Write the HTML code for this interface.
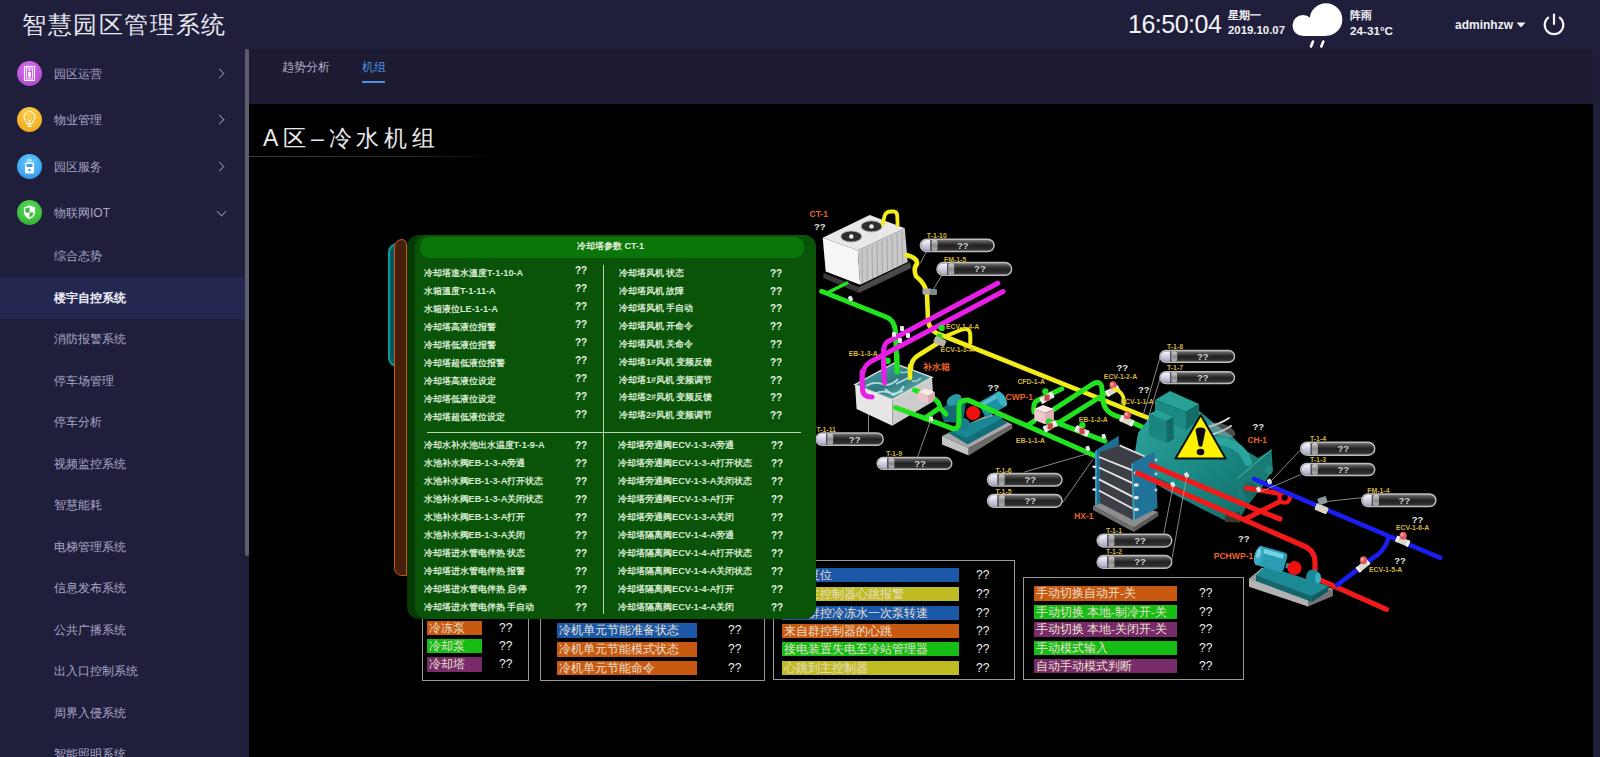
<!DOCTYPE html>
<html><head><meta charset="utf-8">
<style>
*{margin:0;padding:0;box-sizing:border-box}
html,body{width:1600px;height:757px;overflow:hidden;background:#201f3b;font-family:"Liberation Sans",sans-serif}
.a{position:absolute;white-space:nowrap}
#hdr{position:absolute;left:0;top:0;width:1600px;height:49px;background:#201f3b}
#side{position:absolute;left:0;top:49px;width:245px;height:708px;background:#201f3b;overflow:hidden}
.mi{position:absolute;left:54px;font-size:12px;color:#a9a6c6;line-height:14px}
.ic{position:absolute;left:17px;width:25px;height:25px;border-radius:50%}
.arr{position:absolute;left:216px;width:7px;height:7px;border-right:1.3px solid #8a88a6;border-top:1.3px solid #8a88a6;transform:rotate(45deg)}
.sub{position:absolute;left:54px;font-size:12px;color:#a9a6c6;line-height:14px}
#scroll{position:absolute;left:245px;top:49px;width:4px;height:507px;border-radius:2px;background:#5e5d70}
#tabs{position:absolute;left:249px;top:49px;width:1344px;height:55px;background:#1c1b31}
#main{position:absolute;left:249px;top:104px;width:1344px;height:653px;background:#000}
</style><style>
.lg{font-family:"Liberation Serif",serif;font-size:11.5px;line-height:14px;color:#f2e6d6;padding-left:2px;overflow:hidden;opacity:.97}
.q2{font-size:12px;line-height:14px;color:#f0f0f0}
.pt{font-size:9px;line-height:11px;color:#e0f0d8;font-weight:bold}
.pr{font-family:"Liberation Serif",serif;font-size:9px;line-height:11px;color:#d6ead0;font-weight:bold}
.pr b{font-family:"Liberation Sans",sans-serif;font-size:9.2px}
.pq{font-size:10px;line-height:11px;color:#e8f4e4;font-weight:bold}
</style></head><body>
<div id="hdr">
  <div class="a" style="left:22px;top:11px;font-size:24px;letter-spacing:1.6px;color:#e6e6ee;line-height:28px">智慧园区管理系统</div>
  <div class="a" style="left:1128px;top:9px;font-size:25px;color:#f4f4f8;line-height:30px;letter-spacing:-0.5px">16:50:04</div>
  <div class="a" style="left:1228px;top:9px;font-size:11px;color:#f0f0f4;line-height:13px;font-weight:bold">星期一</div>
  <div class="a" style="left:1228px;top:24px;font-size:11.4px;color:#f0f0f4;line-height:13px;font-weight:bold">2019.10.07</div>
  <div class="a" style="left:1350px;top:9px;font-size:11px;color:#f0f0f4;line-height:13px;font-weight:bold">阵雨</div>
  <div class="a" style="left:1350px;top:24px;font-size:11.7px;color:#f0f0f4;line-height:13px;font-weight:bold">24-31°C</div>
  <div class="a" style="left:1455px;top:18px;font-size:12px;color:#f0f0f4;line-height:15px;font-weight:bold">adminhzw</div>
  <svg class="a" style="left:1285px;top:0" width="70" height="50" viewBox="1285 0 70 50"><circle cx="1326" cy="19.5" r="16.3" fill="#fff"/><circle cx="1303" cy="25.5" r="10.5" fill="#fff"/><rect x="1303" y="24" width="23" height="12" fill="#fff"/><path d="M1313,41.5 L1311,46.5 M1323.3,41.5 L1321.3,46.5" stroke="#fff" stroke-width="2.6" stroke-linecap="round"/></svg>
  <svg class="a" style="left:1510px;top:8px" width="60" height="36" viewBox="1510 8 60 36"><path d="M1516.5,22.5 h9 l-4.5,5z" fill="#f0f0f4"/><path d="M1548.2,17.6 A9.3,9.3 0 1 0 1559.8,17.6" fill="none" stroke="#f4f4f8" stroke-width="2.2" stroke-linecap="round"/><path d="M1554,14.5 v9.5" stroke="#f4f4f8" stroke-width="2.2" stroke-linecap="round"/></svg>
</div>
<div id="side">
  <div class="ic" style="top:12px;background:radial-gradient(circle at 45% 30%,#e070f0,#a040c8)"><svg width="25" height="25" viewBox="0 0 25 25"><rect x="7.5" y="5.5" width="10" height="14" fill="none" stroke="#fff" stroke-width="1.1"/><rect x="9.5" y="7" width="6" height="11" fill="none" stroke="#fff" stroke-width="0.8"/><circle cx="12.5" cy="9" r="1" fill="#fff"/><path d="M11.2 11h2.6v4l-0.6 2h-1.4l-0.6-2z" fill="#fff"/></svg></div>
  <div class="mi" style="top:18px">园区运营</div><div class="arr" style="top:21px"></div>
  <div class="ic" style="top:58px;background:radial-gradient(circle at 50% 30%,#fcd050,#f0a010)"><svg width="25" height="25" viewBox="0 0 25 25"><path d="M9.6 16.5c0-2.2-2.6-3.6-2.6-6.6a5.5 5.5 0 0 1 11 0c0 3-2.6 4.4-2.6 6.6z" fill="none" stroke="#fff" stroke-width="1"/><path d="M10.2 18h4.6M10.6 19.5h3.8M11 12.5l1.5 2l1.5-2M12.5 14.5v2" stroke="#fff" stroke-width="0.9" fill="none"/></svg></div>
  <div class="mi" style="top:64px">物业管理</div><div class="arr" style="top:67px"></div>
  <div class="ic" style="top:105px;background:radial-gradient(circle at 50% 35%,#70d0ff,#1f8ae8)"><svg width="25" height="25" viewBox="0 0 25 25"><rect x="8" y="8.5" width="9" height="11" rx="1.5" fill="#fff"/><rect x="9.5" y="10" width="6" height="3" fill="#3a9af0"/><circle cx="12.5" cy="16" r="1.2" fill="#3a9af0"/><path d="M10 6.5a3.5 3.5 0 0 1 5 0M11.2 7.5a1.8 1.8 0 0 1 2.6 0" stroke="#fff" stroke-width="0.8" fill="none"/></svg></div>
  <div class="mi" style="top:111px">园区服务</div><div class="arr" style="top:114px"></div>
  <div class="ic" style="top:151px;background:radial-gradient(circle at 50% 35%,#5ee05e,#2aa62a)"><svg width="25" height="25" viewBox="0 0 25 25"><path d="M12.5 5.5l5.5 2v4.5c0 3.5-2.5 5.8-5.5 7c-3-1.2-5.5-3.5-5.5-7v-4.5z" fill="#fff"/><path d="M12.5 7.2v5.3h4.1c-0.2 2.6-2 4.3-4.1 5.2v-5.2h-4.1v-4z" fill="#3cb83c"/></svg></div>
  <div class="mi" style="top:157px">物联网IOT</div><div class="arr" style="top:159px;left:218px;transform:rotate(135deg)"></div>
  <div class="a" style="left:0;top:228px;width:245px;height:42px;background:#242750"></div>
  <div class="sub" style="top:200.0px">综合态势</div>
  <div class="sub" style="top:241.5px;color:#eeeef6;font-weight:bold">楼宇自控系统</div>
  <div class="sub" style="top:283.0px">消防报警系统</div>
  <div class="sub" style="top:324.5px">停车场管理</div>
  <div class="sub" style="top:366.0px">停车分析</div>
  <div class="sub" style="top:407.5px">视频监控系统</div>
  <div class="sub" style="top:449.0px">智慧能耗</div>
  <div class="sub" style="top:490.5px">电梯管理系统</div>
  <div class="sub" style="top:532.0px">信息发布系统</div>
  <div class="sub" style="top:573.5px">公共广播系统</div>
  <div class="sub" style="top:615.0px">出入口控制系统</div>
  <div class="sub" style="top:656.5px">周界入侵系统</div>
  <div class="sub" style="top:698.0px">智能照明系统</div>
</div>
<div id="scroll"></div>
<div id="tabs">
  <div class="a" style="left:33px;top:11px;font-size:12px;color:#b4b2cc;line-height:14px">趋势分析</div>
  <div class="a" style="left:113px;top:11px;font-size:12px;color:#4d8fe0;line-height:14px">机组</div>
  <div class="a" style="left:113px;top:32px;width:23px;height:2px;background:#4d8fe0"></div>
</div>
<div id="main">
  <div class="a" style="left:14px;top:20px;font-size:23px;letter-spacing:4.8px;color:#e8e8e8;line-height:28px;font-weight:200">A区–冷水机组</div>
  <div class="a" style="left:0;top:52px;width:260px;height:1px;background:linear-gradient(90deg,#3a3a3a,#2a2a2a 60%,rgba(0,0,0,0))"></div>
</div>
<svg class="a" style="left:0;top:0" width="1600" height="757" viewBox="0 0 1600 757">
<defs>
<linearGradient id="gbody" x1="0" y1="0" x2="0" y2="1"><stop offset="0" stop-color="#8a8a8a"/><stop offset=".22" stop-color="#4e4e4e"/><stop offset=".5" stop-color="#222"/><stop offset=".8" stop-color="#2e2e2e"/><stop offset="1" stop-color="#5a5a5a"/></linearGradient>
<linearGradient id="gcap" x1="0" y1="0" x2="0" y2="1"><stop offset="0" stop-color="#f8f8ff"/><stop offset=".5" stop-color="#d0d0e4"/><stop offset="1" stop-color="#a8a8c0"/></linearGradient>
<linearGradient id="gband" x1="0" y1="0" x2="0" y2="1"><stop offset="0" stop-color="#d0d0d0"/><stop offset=".5" stop-color="#8c8c8c"/><stop offset="1" stop-color="#b0b0b0"/></linearGradient>
<linearGradient id="teal" x1="0" y1="0" x2="1" y2="1"><stop offset="0" stop-color="#30a49c"/><stop offset=".5" stop-color="#1a8a84"/><stop offset="1" stop-color="#10665f"/></linearGradient>
<linearGradient id="tealp" x1="0" y1="0" x2="1" y2="1"><stop offset="0" stop-color="#3ab0c0"/><stop offset="1" stop-color="#0e6878"/></linearGradient>
<linearGradient id="water" x1="0" y1="0" x2="1" y2="1"><stop offset="0" stop-color="#5ab0b0"/><stop offset=".5" stop-color="#2a7a80"/><stop offset="1" stop-color="#80c8c8"/></linearGradient>
</defs>
<polygon points="823.3,272.8 859,287 859,293 823.3,278" fill="#3a3a3a" />
<polygon points="859,287 910,262 911.3,268 859,293" fill="#4a4a4a" />
<polygon points="822.7,237.7 857.8,250.2 860.2,284.7 825.7,271.6" fill="#f6f6f6" />
<polygon points="857.8,250.2 904.8,228.2 907.7,262 860.2,284.7" fill="#c8c8c8" />
<line x1="862" y1="250.23439999999997" x2="862.5" y2="282.76" stroke="#9a9a9a" stroke-width="0.7"/>
<line x1="867" y1="247.89439999999996" x2="867.5" y2="280.40999999999997" stroke="#9a9a9a" stroke-width="0.7"/>
<line x1="872" y1="245.55439999999996" x2="872.5" y2="278.06" stroke="#9a9a9a" stroke-width="0.7"/>
<line x1="877" y1="243.21439999999996" x2="877.5" y2="275.71" stroke="#9a9a9a" stroke-width="0.7"/>
<line x1="882" y1="240.87439999999998" x2="882.5" y2="273.36" stroke="#9a9a9a" stroke-width="0.7"/>
<line x1="887" y1="238.53439999999998" x2="887.5" y2="271.01" stroke="#9a9a9a" stroke-width="0.7"/>
<line x1="892" y1="236.19439999999997" x2="892.5" y2="268.65999999999997" stroke="#9a9a9a" stroke-width="0.7"/>
<line x1="897" y1="233.85439999999997" x2="897.5" y2="266.31" stroke="#9a9a9a" stroke-width="0.7"/>
<line x1="902" y1="231.51439999999997" x2="902.5" y2="263.96" stroke="#9a9a9a" stroke-width="0.7"/>
<polygon points="822.7,237.7 869.7,215.1 904.8,228.2 857.8,250.2" fill="#e8e8e8" />
<ellipse cx="851.3" cy="236.5" rx="10.5" ry="5.6" fill="#2e2e2e" stroke="#bcbcbc" stroke-width="1"/><circle cx="851.3" cy="236.5" r="2.2" fill="#f4f4f4"/>
<ellipse cx="871.5" cy="226.4" rx="10.5" ry="5.6" fill="#2e2e2e" stroke="#bcbcbc" stroke-width="1"/><circle cx="871.5" cy="226.4" r="2.2" fill="#f4f4f4"/>
<path d="M882.8,224 L884.5,216 Q886,211.5 891,211.5 L894,211.5 Q897.3,212 897.3,217 L897.6,225" fill="none" stroke="#f2ec18" stroke-width="3.8" stroke-linecap="round" stroke-linejoin="round"/>
<text x="809.5" y="214" fill="#e8642a" font-size="8.5" font-weight="bold" dominant-baseline="central">CT-1</text>
<text x="814" y="226" fill="#e4e4e4" font-size="9.5" font-weight="bold" dominant-baseline="central">??</text>
<path d="M821.6,291.3 L886.8,317.2 Q895.6,321 895.6,334.8 L897,370" fill="none" stroke="#22e41e" stroke-width="5" stroke-linecap="round" stroke-linejoin="round"/>
<path d="M828.5,292.2 L847,283" fill="none" stroke="#22e41e" stroke-width="3.4" stroke-linecap="round" stroke-linejoin="round"/>
<rect x="848.7" y="296" width="4" height="5" rx="1" fill="#e8e8e8" transform="rotate(-25 850.7 299)"/>
<path d="M906.6,255 Q918,258 917,264 Q913,268 916,276.3 Q926,284 927,295 L928,320 Q929,331 941,335 L1147.4,417.6" fill="none" stroke="#f2ec18" stroke-width="4.6" stroke-linecap="round" stroke-linejoin="round"/>
<path d="M938,343 L918,355.5 Q911,360 911,368 L910,378" fill="none" stroke="#f2ec18" stroke-width="4.6" stroke-linecap="round" stroke-linejoin="round"/>
<path d="M946,336 L962,329.5 Q970,327 970.3,335 L970.3,343" fill="none" stroke="#f2ec18" stroke-width="4" stroke-linecap="round" stroke-linejoin="round"/>
<rect x="922.5" y="288.5" width="9" height="6" rx="1" fill="#a8a8a8"/><rect x="930" y="289" width="7" height="6" rx="1" fill="#7a8a8a"/>
<line x1="942" y1="275" x2="933" y2="290" stroke="#a8a8a8" stroke-width="0.8"/>
<line x1="926" y1="252" x2="920.4" y2="263.4" stroke="#a8a8a8" stroke-width="0.8"/>
<path d="M997.7,283.2 L887.5,341.8 Q883,345 883.5,355 L884.4,383" fill="none" stroke="#e61ee6" stroke-width="5" stroke-linecap="round" stroke-linejoin="round"/>
<path d="M1003,291.5 L870,362 Q862,367 862,380 L862.5,390 Q863,397 872,397" fill="none" stroke="#e61ee6" stroke-width="5" stroke-linecap="round" stroke-linejoin="round"/>
<rect x="892" y="332" width="4" height="5" rx="1" fill="#e8e8e8" transform="rotate(0 894 335)"/>
<rect x="900" y="326" width="4" height="5" rx="1" fill="#e8e8e8" transform="rotate(0 902 329)"/>
<rect x="898" y="338" width="4" height="5" rx="1" fill="#e8e8e8" transform="rotate(0 900 341)"/>
<rect x="906" y="333" width="4" height="5" rx="1" fill="#e8e8e8" transform="rotate(0 908 336)"/>
<circle cx="941.7" cy="327.9" r="3.2" fill="#1ee01e"/>
<circle cx="939.4" cy="336.6" r="3.2" fill="#1ee01e"/>
<circle cx="887.5" cy="360.8" r="3.2" fill="#1ee01e"/>
<rect x="934" y="338" width="12" height="7" rx="1.5" fill="#b8b4a8" transform="rotate(25 940 341)"/>
<text x="946" y="326.8" fill="#d2b63a" font-size="6.9" font-weight="bold" text-anchor="start" dominant-baseline="central">ECV-1-4-A</text>
<text x="940.6" y="349" fill="#d2b63a" font-size="6.9" font-weight="bold" text-anchor="start" dominant-baseline="central">ECV-1-3-A</text>
<text x="848.7" y="353.2" fill="#d2b63a" font-size="6.9" font-weight="bold" text-anchor="start" dominant-baseline="central">EB-1-3-A</text>
<text x="923" y="367" fill="#e8642a" font-size="8.8" font-weight="bold" dominant-baseline="central">补水箱</text>
<polygon points="855,384.6 892.3,399.6 892.3,425.8 856.6,409" fill="#e6e6e6" />
<polygon points="892.3,399.6 932,377.4 933.5,401.2 892.3,425.8" fill="#cccccc" />
<polygon points="855,384.6 893.9,363.2 932,377.4 892.3,399.6" fill="url(#water)" stroke="#dadada" stroke-width="1.5"/>
<path d="M866,386 q8,-5 16,-2 t16,-5 M874,394 q8,-4 16,-1 t14,-7 M896,384 l12,-6 M885,389 l8,6 l10,-4" stroke="#e4f8f8" stroke-width="1.8" fill="none" opacity=".75"/>
<path d="M860,385 l4,3 M900,372 q6,2 10,-2 M912,381 q5,1 9,-3" stroke="#ffffff" stroke-width="1.4" fill="none" opacity=".6"/>
<path d="M883.5,360 L884.4,383" fill="none" stroke="#e61ee6" stroke-width="5" stroke-linecap="round" stroke-linejoin="round"/>
<path d="M862,372 L862.5,390 Q863,397 872,397" fill="none" stroke="#e61ee6" stroke-width="5" stroke-linecap="round" stroke-linejoin="round"/>
<path d="M897,355 L897,372" fill="none" stroke="#22e41e" stroke-width="5" stroke-linecap="round" stroke-linejoin="round"/>
<path d="M910,366 L910,378" fill="none" stroke="#f2ec18" stroke-width="4.6" stroke-linecap="round" stroke-linejoin="round"/>
<line x1="868.5" y1="414" x2="868.5" y2="433" stroke="#a8a8a8" stroke-width="0.8"/>
<polygon points="942,436 990,414 1012.3,424.6 968.7,448" fill="#a8a8a8" />
<polygon points="942,436 968.7,448 968.7,455.4 942,444.5" fill="#c4c4c4" />
<polygon points="968.7,448 1012.3,424.6 1012.3,428.6 968.7,455.4" fill="#6a6a6a" />
<polygon points="947.8,432.6 1000,418.7 1007.3,422.7 967.7,444.5" fill="#126e78" />
<polygon points="950,430 998,414 1003,418 966,438" fill="#1a8894" />
<polygon points="940,410 958,396 966,402 963,423 944,422" fill="#146a74" />
<ellipse cx="954" cy="400" rx="8" ry="5" fill="#2a98a8" transform="rotate(-30 954 400)"/>
<g transform="rotate(-30 993 404)"><rect x="980" y="395.5" width="24" height="17" rx="3" fill="#1e90a4"/><rect x="983" y="397" width="18" height="4" fill="#6ad0e0" opacity=".7"/><ellipse cx="1003" cy="404" rx="4" ry="8.5" fill="#3ab0c4"/></g>
<ellipse cx="963" cy="424" rx="7" ry="6" fill="#1a7e8a"/>
<path d="M895.5,407.5 L952.8,428.6 Q959,430 959,420 L959,406 Q959,399.9 967.7,399.9 L1095,455.7 L1104,460" fill="none" stroke="#22e41e" stroke-width="5" stroke-linecap="round" stroke-linejoin="round"/>
<path d="M914.5,390 L933,397.9 Q939.9,402 939.9,407.8 L925,418" fill="none" stroke="#22e41e" stroke-width="5" stroke-linecap="round" stroke-linejoin="round"/>
<path d="M939.9,407.8 L946,414" fill="none" stroke="#22e41e" stroke-width="5" stroke-linecap="round" stroke-linejoin="round"/>
<polygon points="918,392 925,388.5 935,392 928,396" fill="#fbe8ea" />
<polygon points="918,392 928,396 928,403 918,399" fill="#f0c4c8" />
<polygon points="928,396 935,392 935,399 928,403" fill="#d8a8ac" />
<circle cx="973.1" cy="413.1" r="7" fill="#f01010"/>
<text x="987.4" y="387" fill="#e4e4e4" font-size="9.5" font-weight="bold" dominant-baseline="central">??</text>
<text x="1005.6" y="396.5" fill="#e8642a" font-size="8.5" font-weight="bold" dominant-baseline="central">CWP-1</text>
<rect x="929" y="416.4" width="4" height="5" rx="1" fill="#e8e8e8" transform="rotate(0 931 419.4)"/>
<line x1="917.7" y1="456.7" x2="931" y2="419.4" stroke="#a8a8a8" stroke-width="0.8"/>
<path d="M1061.8,388.8 L1036.4,401 Q1032.7,404 1034,412" fill="none" stroke="#22e41e" stroke-width="5" stroke-linecap="round" stroke-linejoin="round"/>
<path d="M1028,425.3 L1034,421" fill="none" stroke="#22e41e" stroke-width="5" stroke-linecap="round" stroke-linejoin="round"/>
<path d="M1053.9,409.4 L1093.5,383.5 Q1102,380 1102,390 L1103,399.9 Q1104,414 1122,417.6 L1145.8,428.7" fill="none" stroke="#22e41e" stroke-width="5" stroke-linecap="round" stroke-linejoin="round"/>
<path d="M1056.5,424.2 L1107.3,392.5" fill="none" stroke="#22e41e" stroke-width="5" stroke-linecap="round" stroke-linejoin="round"/>
<path d="M1056.5,422.6 L1105,441.1" fill="none" stroke="#22e41e" stroke-width="5" stroke-linecap="round" stroke-linejoin="round"/>
<polygon points="1034.3,409 1043,405 1053.9,409 1045,413" fill="#fbe8ea" />
<polygon points="1034.3,409 1045,413 1045,424.2 1034.3,420" fill="#f0c8cc" />
<polygon points="1045,413 1053.9,409 1053.9,420 1045,424.2" fill="#dcb0b4" />
<circle cx="1045.4" cy="391.4" r="3.2" fill="#1ee01e"/>
<circle cx="1049.1" cy="421.6" r="3.2" fill="#1ee01e"/>
<circle cx="1082.4" cy="425.3" r="3.2" fill="#1ee01e"/>
<g transform="translate(1112.5,390.7)"><g transform="rotate(-30)"><rect x="-7" y="-3.2" width="14" height="6.4" rx="1.5" fill="#dcd8cc"/><rect x="-7" y="-3.2" width="2.5" height="6.4" fill="#f4f4f4"/><rect x="4.5" y="-3.2" width="2.5" height="6.4" fill="#f4f4f4"/></g><ellipse cx="0.5" cy="-5.5" rx="3.6" ry="4" fill="#e0585e"/><ellipse cx="-0.5" cy="-6.5" rx="1.6" ry="1.8" fill="#f4a0a0"/></g>
<g transform="translate(1126.8,420.8)"><g transform="rotate(25)"><rect x="-7" y="-3.2" width="14" height="6.4" rx="1.5" fill="#dcd8cc"/><rect x="-7" y="-3.2" width="2.5" height="6.4" fill="#f4f4f4"/><rect x="4.5" y="-3.2" width="2.5" height="6.4" fill="#f4f4f4"/></g><ellipse cx="0.5" cy="-5.5" rx="3.6" ry="4" fill="#e0585e"/><ellipse cx="-0.5" cy="-6.5" rx="1.6" ry="1.8" fill="#f4a0a0"/></g>
<g transform="translate(1081.9,431)"><g transform="rotate(25)"><rect x="-7" y="-3.2" width="14" height="6.4" rx="1.5" fill="#dcd8cc"/><rect x="-7" y="-3.2" width="2.5" height="6.4" fill="#f4f4f4"/><rect x="4.5" y="-3.2" width="2.5" height="6.4" fill="#f4f4f4"/></g><rect x="-2.5" y="-3" width="5" height="6" fill="#c84848"/></g>
<g transform="translate(1047,397.8)"><g transform="rotate(-30)"><rect x="-7" y="-3.2" width="14" height="6.4" rx="1.5" fill="#dcd8cc"/><rect x="-7" y="-3.2" width="2.5" height="6.4" fill="#f4f4f4"/><rect x="4.5" y="-3.2" width="2.5" height="6.4" fill="#f4f4f4"/></g><rect x="-2.5" y="-3" width="5" height="6" fill="#c84848"/></g>
<g transform="translate(1050.2,426.3)"><g transform="rotate(-30)"><rect x="-7" y="-3.2" width="14" height="6.4" rx="1.5" fill="#dcd8cc"/><rect x="-7" y="-3.2" width="2.5" height="6.4" fill="#f4f4f4"/><rect x="4.5" y="-3.2" width="2.5" height="6.4" fill="#f4f4f4"/></g><rect x="-2.5" y="-3" width="5" height="6" fill="#c84848"/></g>
<path d="M1114,389 Q1125,392 1124,404" fill="none" stroke="#f2ec18" stroke-width="3.4" stroke-linecap="round" stroke-linejoin="round"/>
<text x="1017.4" y="381.4" fill="#d2b63a" font-size="6.9" font-weight="bold" text-anchor="start" dominant-baseline="central">CFD-1-A</text>
<text x="1103.8" y="376.8" fill="#d2b63a" font-size="6.9" font-weight="bold" text-anchor="start" dominant-baseline="central">ECV-1-2-A</text>
<text x="1120.4" y="401" fill="#d2b63a" font-size="6.9" font-weight="bold" text-anchor="start" dominant-baseline="central">ECV-1-1-A</text>
<text x="1078.7" y="419.4" fill="#d2b63a" font-size="6.9" font-weight="bold" text-anchor="start" dominant-baseline="central">EB-1-2-A</text>
<text x="1015.8" y="440.6" fill="#d2b63a" font-size="6.9" font-weight="bold" text-anchor="start" dominant-baseline="central">EB-1-1-A</text>
<text x="1116.5" y="367.7" fill="#e4e4e4" font-size="9.5" font-weight="bold" dominant-baseline="central">??</text>
<text x="1137.9" y="389" fill="#e4e4e4" font-size="9.5" font-weight="bold" dominant-baseline="central">??</text>
<polygon points="1138,433 1150,417 1198,410 1215,424 1232,436 1245,450 1258,458 1268,452 1270,472 1258,492 1246,508 1240,518 1228,522 1200,508 1170,492 1138,474 1134,458" fill="url(#teal)" />
<path d="M1140,470 L1235,518" stroke="#0c4e4c" stroke-width="3" opacity=".6"/>
<path d="M1210,440 Q1240,440 1248,462" stroke="#2aa49c" stroke-width="8" fill="none" stroke-linecap="round"/>
<polygon points="1225,515.8 1240,512 1240,522.4 1225,522" fill="#3a3a2a" />
<polygon points="1237,478.8 1271.5,449.8 1272.8,469 1262,488 1238,505" fill="#1a7a74" />
<line x1="1237" y1="478.8" x2="1271.5" y2="449.8" stroke="#3aa49c" stroke-width="1.2"/>
<ellipse cx="1268.8" cy="470" rx="4" ry="5" fill="#1e8a82"/><ellipse cx="1250" cy="490" rx="7" ry="8" fill="#146a66"/>
<polygon points="1155,400 1170,391 1199,404 1186,412" fill="#27a096" />
<polygon points="1155,400 1186,412 1186,430 1155,418" fill="#1b8a82" />
<polygon points="1186,412 1199,404 1199,420 1186,430" fill="#146e68" />
<polygon points="1149,414 1157,410 1173,417 1166,421" fill="#27a096" />
<polygon points="1149,414 1166,421 1167,443 1149,436" fill="#1b8680" />
<polygon points="1166,421 1173,417 1174,439 1167,443" fill="#126a64" />
<path d="M1203,428 q16,-3 26,-10 M1205,436 q16,-3 26,-10" stroke="#e4e4e4" stroke-width="1.8" fill="none" stroke-linecap="round"/>
<ellipse cx="1222" cy="430" rx="14" ry="6" fill="#9a9a9a" opacity=".5" transform="rotate(20 1222 430)"/>
<polygon points="1200.8,415 1175.5,458.5 1225.6,458.5" fill="#fff200" stroke="#101010" stroke-width="2" stroke-linejoin="round"/>
<path d="M1195.6,430.5 Q1195.6,427.5 1200.5,427.5 Q1205.5,427.5 1205.5,430.5 L1202.3,446 Q1200.5,447.5 1198.7,446 Z" fill="#0a0a0a"/><ellipse cx="1200.5" cy="452" rx="3.8" ry="3.2" fill="#0a0a0a"/>
<text x="1252.5" y="426.6" fill="#e4e4e4" font-size="9.5" font-weight="bold" dominant-baseline="central">??</text>
<text x="1247.5" y="439.5" fill="#e8642a" font-size="8.3" font-weight="bold" dominant-baseline="central">CH-1</text>
<rect x="1102" y="434" width="4" height="5" rx="1" fill="#e8e8e8" transform="rotate(-20 1104 437)"/>
<rect x="1086" y="446" width="4" height="5" rx="1" fill="#e8e8e8" transform="rotate(-20 1088 449)"/>
<polygon points="1093,506 1112,498 1158.4,512 1133.9,527.8" fill="#8c8c8c" />
<polygon points="1093,506 1133.9,527.8 1133.9,532 1093,510" fill="#6e6e6e" />
<polygon points="1133.9,527.8 1158.4,512 1158.4,516 1133.9,532" fill="#5a5a5a" />
<polygon points="1096,450 1118.8,435.8 1119,492 1096,505.6" fill="#1f6f92" />
<polygon points="1100,452 1119.6,445.4 1145,456.5 1133,463 1133,520 1100,503" fill="#3c3f46" />
<line x1="1119.6" y1="445.4" x2="1145" y2="456.5" stroke="#e0e0e0" stroke-width="1.8"/>
<line x1="1099" y1="457" x2="1133" y2="470.7" stroke="#e8e8e8" stroke-width="1.8"/>
<line x1="1099" y1="467.5" x2="1133" y2="483.4" stroke="#e8e8e8" stroke-width="1.8"/>
<line x1="1099" y1="479.4" x2="1133" y2="496.9" stroke="#e8e8e8" stroke-width="1.8"/>
<line x1="1099" y1="490.5" x2="1133" y2="508.7" stroke="#e8e8e8" stroke-width="1.8"/>
<polygon points="1095,451 1097,450 1097,505 1095,506" fill="#3a98bc" />
<ellipse cx="1094.3" cy="466.8" rx="2" ry="1.4" fill="#e0e0e0"/>
<ellipse cx="1094.3" cy="478" rx="2" ry="1.4" fill="#e0e0e0"/>
<ellipse cx="1094.3" cy="489.6" rx="2" ry="1.4" fill="#e0e0e0"/>
<polygon points="1133.1,462.8 1154.5,451.7 1157.7,508 1134.7,519.8" fill="#21739a" />
<polygon points="1131.5,463.6 1133.1,462.8 1134.7,519.8 1133,520.6" fill="#4aa6c8" />
<ellipse cx="1136.3" cy="473" rx="2.6" ry="1.8" fill="#ececec"/>
<ellipse cx="1136.3" cy="485" rx="2.6" ry="1.8" fill="#ececec"/>
<ellipse cx="1136.3" cy="497.6" rx="2.6" ry="1.8" fill="#ececec"/>
<ellipse cx="1136.3" cy="509.5" rx="2.6" ry="1.8" fill="#ececec"/>
<ellipse cx="1156" cy="460" rx="1.6" ry="1.4" fill="#b8c8d0"/>
<ellipse cx="1156" cy="474" rx="1.6" ry="1.4" fill="#b8c8d0"/>
<ellipse cx="1156" cy="490" rx="1.6" ry="1.4" fill="#b8c8d0"/>
<text x="1074.3" y="516" fill="#e8642a" font-size="8.4" font-weight="bold" dominant-baseline="central">HX-1</text>
<path d="M1151.4,465.2 L1254.4,508.8 L1280,519" fill="none" stroke="#f01a1a" stroke-width="5.2" stroke-linecap="round" stroke-linejoin="round"/>
<path d="M1137.5,473.2 L1304,546 Q1315,551 1315,562 L1315,569.7" fill="none" stroke="#f01a1a" stroke-width="5.2" stroke-linecap="round" stroke-linejoin="round"/>
<path d="M1246.4,488 L1280,493.5" fill="none" stroke="#f01a1a" stroke-width="5" stroke-linecap="round" stroke-linejoin="round"/>
<circle cx="1284.7" cy="497.5" r="5.2" fill="none" stroke="#f01a1a" stroke-width="4.2"/>
<path d="M1280,501.5 L1246.4,518.4" fill="none" stroke="#f01a1a" stroke-width="5" stroke-linecap="round" stroke-linejoin="round"/>
<path d="M1318.3,579.2 L1386.4,609.4" fill="none" stroke="#f01a1a" stroke-width="5.2" stroke-linecap="round" stroke-linejoin="round"/>
<path d="M1254,479 L1440.3,557.8" fill="none" stroke="#1a1ef0" stroke-width="4.6" stroke-linecap="round" stroke-linejoin="round"/>
<path d="M1388,539.6 Q1384,552 1372,558.6 L1337.3,584.8" fill="none" stroke="#1a1ef0" stroke-width="4.6" stroke-linecap="round" stroke-linejoin="round"/>
<rect x="1171" y="482" width="4" height="5" rx="1" fill="#e8e8e8" transform="rotate(-25 1173 485)"/>
<rect x="1184.8" y="472.5" width="4" height="5" rx="1" fill="#e8e8e8" transform="rotate(-25 1186.8 475.5)"/>
<rect x="1267.7" y="479" width="4" height="5" rx="1" fill="#e8e8e8" transform="rotate(-25 1269.7 482)"/>
<rect x="1256.8" y="487" width="4" height="5" rx="1" fill="#e8e8e8" transform="rotate(-25 1258.8 490)"/>
<g transform="translate(1402.7,541.2)"><g transform="rotate(23)"><rect x="-7" y="-3.2" width="14" height="6.4" rx="1.5" fill="#dcd8cc"/><rect x="-7" y="-3.2" width="2.5" height="6.4" fill="#f4f4f4"/><rect x="4.5" y="-3.2" width="2.5" height="6.4" fill="#f4f4f4"/></g><ellipse cx="0.5" cy="-5.5" rx="3.6" ry="4" fill="#e0585e"/><ellipse cx="-0.5" cy="-6.5" rx="1.6" ry="1.8" fill="#f4a0a0"/></g>
<g transform="translate(1363,565.8)"><g transform="rotate(-40)"><rect x="-7" y="-3.2" width="14" height="6.4" rx="1.5" fill="#dcd8cc"/><rect x="-7" y="-3.2" width="2.5" height="6.4" fill="#f4f4f4"/><rect x="4.5" y="-3.2" width="2.5" height="6.4" fill="#f4f4f4"/></g><ellipse cx="0.5" cy="-5.5" rx="3.6" ry="4" fill="#e0585e"/><ellipse cx="-0.5" cy="-6.5" rx="1.6" ry="1.8" fill="#f4a0a0"/></g>
<rect x="1315" y="505" width="13" height="7" rx="1.5" fill="#d8d4c8" transform="rotate(23 1321 508.8)"/><rect x="1318" y="497" width="9" height="7" rx="1" fill="#8a9a9a" transform="rotate(-20 1322.9 500.5)"/>
<polygon points="1249,578.7 1262,568 1333,589 1308,606.5" fill="#8e8e8e" />
<polygon points="1249,578.7 1308,598 1308,606.5 1249,586.7" fill="#b2b2b2" />
<polygon points="1308,598 1333,589 1333,596 1308,606.5" fill="#747474" />
<polygon points="1249,578.7 1262,568 1333,589 1308,598" fill="#9a9a9a" />
<polygon points="1256,575 1266,566 1328.5,586 1312,596" fill="#1c8a94" />
<polygon points="1256,575 1312,596 1312,602 1256,581" fill="#12666e" />
<polygon points="1312,596 1328.5,586 1328.5,591 1312,602" fill="#0e5a62" />
<g transform="rotate(16 1271 559)"><rect x="1257" y="549" width="29" height="20" rx="4" fill="#2a9cb4"/><rect x="1262" y="551" width="20" height="4.5" fill="#80dcee" opacity=".85"/><ellipse cx="1258.5" cy="559" rx="4.5" ry="10" fill="#3aaac4"/><ellipse cx="1257.5" cy="557" rx="2" ry="5" fill="#9ae4f0" opacity=".7"/></g>
<ellipse cx="1313" cy="577" rx="7" ry="7.5" fill="#1a8a9a"/><ellipse cx="1318" cy="578" rx="3" ry="5.5" fill="#36b0c0"/><rect x="1286" y="564" width="8" height="5" fill="#2a9aa8" transform="rotate(16 1290 566)"/>
<circle cx="1294.5" cy="568.1" r="7" fill="#f01010"/>
<text x="1238" y="538.8" fill="#e4e4e4" font-size="9.5" font-weight="bold" dominant-baseline="central">??</text>
<text x="1253.3" y="556.3" fill="#e8642a" font-size="8.6" font-weight="bold" text-anchor="end" dominant-baseline="central">PCHWP-1</text>
<text x="1369" y="569" fill="#d2b63a" font-size="6.9" font-weight="bold" text-anchor="start" dominant-baseline="central">ECV-1-5-A</text>
<text x="1394.3" y="560.2" fill="#e4e4e4" font-size="9.5" font-weight="bold" dominant-baseline="central">??</text>
<text x="1396" y="527.7" fill="#d2b63a" font-size="6.9" font-weight="bold" text-anchor="start" dominant-baseline="central">ECV-1-6-A</text>
<text x="1411.7" y="519" fill="#e4e4e4" font-size="9.5" font-weight="bold" dominant-baseline="central">??</text>
<line x1="1160.4" y1="356.4" x2="1143.3" y2="414.6" stroke="#a8a8a8" stroke-width="0.8"/>
<line x1="1160.4" y1="377.6" x2="1147.2" y2="421.2" stroke="#a8a8a8" stroke-width="0.8"/>
<line x1="1300.7" y1="449.6" x2="1269.3" y2="482.9" stroke="#a8a8a8" stroke-width="0.8"/>
<line x1="1300.7" y1="474.6" x2="1261.9" y2="491.2" stroke="#a8a8a8" stroke-width="0.8"/>
<line x1="1361.8" y1="497.7" x2="1327.5" y2="501.4" stroke="#a8a8a8" stroke-width="0.8"/>
<line x1="1024.5" y1="472" x2="1088" y2="453.6" stroke="#a8a8a8" stroke-width="0.8"/>
<line x1="1062.8" y1="502.4" x2="1093.2" y2="458.9" stroke="#a8a8a8" stroke-width="0.8"/>
<line x1="1163.8" y1="533.4" x2="1173.3" y2="485" stroke="#a8a8a8" stroke-width="0.8"/>
<line x1="1171.7" y1="560.3" x2="1186.8" y2="475.5" stroke="#a8a8a8" stroke-width="0.8"/>
<rect x="920.4" y="239.3" width="73.60000000000002" height="12.199999999999989" rx="6.099999999999994" fill="url(#gbody)" stroke="#bcbcbc" stroke-width="1.5"/>
<path d="M926.5,240.10000000000002 H930.4 V250.7 H926.5 A5.2999999999999945,5.2999999999999945 0 0 1 926.5,240.10000000000002z" fill="url(#gcap)"/>
<rect x="930.4" y="240.10000000000002" width="1.2" height="10.599999999999989" fill="#505060"/>
<rect x="931.6" y="240.10000000000002" width="6" height="10.599999999999989" rx="2" fill="url(#gband)"/>
<text x="962.72" y="245.4" fill="#d0d0d0" font-size="9.5" font-weight="bold" text-anchor="middle" dominant-baseline="central">??</text>
<text x="926.8" y="235.7" fill="#d2b63a" font-size="6.9" font-weight="bold" text-anchor="start" dominant-baseline="central">T-1-10</text>
<rect x="937" y="262.6" width="74.60000000000002" height="12.699999999999989" rx="6.349999999999994" fill="url(#gbody)" stroke="#bcbcbc" stroke-width="1.5"/>
<path d="M943.35,263.40000000000003 H947 V274.5 H943.35 A5.5499999999999945,5.5499999999999945 0 0 1 943.35,263.40000000000003z" fill="url(#gcap)"/>
<rect x="947" y="263.40000000000003" width="1.2" height="11.099999999999989" fill="#505060"/>
<rect x="948.2" y="263.40000000000003" width="6" height="11.099999999999989" rx="2" fill="url(#gband)"/>
<text x="979.895" y="268.95000000000005" fill="#d0d0d0" font-size="9.5" font-weight="bold" text-anchor="middle" dominant-baseline="central">??</text>
<text x="944" y="259" fill="#d2b63a" font-size="6.9" font-weight="bold" text-anchor="start" dominant-baseline="central">FM-1-5</text>
<rect x="816" y="433" width="67.20000000000005" height="12.300000000000011" rx="6.150000000000006" fill="url(#gbody)" stroke="#bcbcbc" stroke-width="1.5"/>
<path d="M822.15,433.8 H826 V444.5 H822.15 A5.350000000000006,5.350000000000006 0 0 1 822.15,433.8z" fill="url(#gcap)"/>
<rect x="826" y="433.8" width="1.2" height="10.700000000000012" fill="#505060"/>
<rect x="827.2" y="433.8" width="6" height="10.700000000000012" rx="2" fill="url(#gband)"/>
<text x="854.64" y="439.15" fill="#d0d0d0" font-size="9.5" font-weight="bold" text-anchor="middle" dominant-baseline="central">??</text>
<text x="816.4" y="429.3" fill="#d2b63a" font-size="6.9" font-weight="bold" text-anchor="start" dominant-baseline="central">T-1-11</text>
<rect x="877.2" y="457.5" width="74.5" height="11.800000000000011" rx="5.900000000000006" fill="url(#gbody)" stroke="#bcbcbc" stroke-width="1.5"/>
<path d="M883.1,458.3 H887.2 V468.5 H883.1 A5.100000000000006,5.100000000000006 0 0 1 883.1,458.3z" fill="url(#gcap)"/>
<rect x="887.2" y="458.3" width="1.2" height="10.200000000000012" fill="#505060"/>
<rect x="888.4000000000001" y="458.3" width="6" height="10.200000000000012" rx="2" fill="url(#gband)"/>
<text x="920.0375" y="463.4" fill="#d0d0d0" font-size="9.5" font-weight="bold" text-anchor="middle" dominant-baseline="central">??</text>
<text x="886" y="453.5" fill="#d2b63a" font-size="6.9" font-weight="bold" text-anchor="start" dominant-baseline="central">T-1-9</text>
<rect x="987.5" y="473.4" width="74.5" height="12.600000000000023" rx="6.300000000000011" fill="url(#gbody)" stroke="#bcbcbc" stroke-width="1.5"/>
<path d="M993.8,474.2 H997.5 V485.2 H993.8 A5.5000000000000115,5.5000000000000115 0 0 1 993.8,474.2z" fill="url(#gcap)"/>
<rect x="997.5" y="474.2" width="1.2" height="11.000000000000023" fill="#505060"/>
<rect x="998.7" y="474.2" width="6" height="11.000000000000023" rx="2" fill="url(#gband)"/>
<text x="1030.3375" y="479.7" fill="#d0d0d0" font-size="9.5" font-weight="bold" text-anchor="middle" dominant-baseline="central">??</text>
<text x="995.5" y="470" fill="#d2b63a" font-size="6.9" font-weight="bold" text-anchor="start" dominant-baseline="central">T-1-6</text>
<rect x="987.5" y="494.5" width="74.5" height="12.699999999999989" rx="6.349999999999994" fill="url(#gbody)" stroke="#bcbcbc" stroke-width="1.5"/>
<path d="M993.85,495.3 H997.5 V506.4 H993.85 A5.5499999999999945,5.5499999999999945 0 0 1 993.85,495.3z" fill="url(#gcap)"/>
<rect x="997.5" y="495.3" width="1.2" height="11.099999999999989" fill="#505060"/>
<rect x="998.7" y="495.3" width="6" height="11.099999999999989" rx="2" fill="url(#gband)"/>
<text x="1030.3375" y="500.85" fill="#d0d0d0" font-size="9.5" font-weight="bold" text-anchor="middle" dominant-baseline="central">??</text>
<text x="995.5" y="491" fill="#d2b63a" font-size="6.9" font-weight="bold" text-anchor="start" dominant-baseline="central">T-1-5</text>
<rect x="1160" y="350.6" width="74.5" height="11.599999999999966" rx="5.799999999999983" fill="url(#gbody)" stroke="#bcbcbc" stroke-width="1.5"/>
<path d="M1165.8,351.40000000000003 H1170 V361.4 H1165.8 A4.999999999999983,4.999999999999983 0 0 1 1165.8,351.40000000000003z" fill="url(#gcap)"/>
<rect x="1170" y="351.40000000000003" width="1.2" height="9.999999999999966" fill="#505060"/>
<rect x="1171.2" y="351.40000000000003" width="6" height="9.999999999999966" rx="2" fill="url(#gband)"/>
<text x="1202.8375" y="356.4" fill="#d0d0d0" font-size="9.5" font-weight="bold" text-anchor="middle" dominant-baseline="central">??</text>
<text x="1167" y="346.4" fill="#d2b63a" font-size="6.9" font-weight="bold" text-anchor="start" dominant-baseline="central">T-1-8</text>
<rect x="1160" y="371.8" width="74.5" height="11.599999999999966" rx="5.799999999999983" fill="url(#gbody)" stroke="#bcbcbc" stroke-width="1.5"/>
<path d="M1165.8,372.6 H1170 V382.59999999999997 H1165.8 A4.999999999999983,4.999999999999983 0 0 1 1165.8,372.6z" fill="url(#gcap)"/>
<rect x="1170" y="372.6" width="1.2" height="9.999999999999966" fill="#505060"/>
<rect x="1171.2" y="372.6" width="6" height="9.999999999999966" rx="2" fill="url(#gband)"/>
<text x="1202.8375" y="377.6" fill="#d0d0d0" font-size="9.5" font-weight="bold" text-anchor="middle" dominant-baseline="central">??</text>
<text x="1167" y="367" fill="#d2b63a" font-size="6.9" font-weight="bold" text-anchor="start" dominant-baseline="central">T-1-7</text>
<rect x="1300.7" y="442.2" width="74.0" height="13.0" rx="6.5" fill="url(#gbody)" stroke="#bcbcbc" stroke-width="1.5"/>
<path d="M1307.2,443.0 H1310.7 V454.4 H1307.2 A5.7,5.7 0 0 1 1307.2,443.0z" fill="url(#gcap)"/>
<rect x="1310.7" y="443.0" width="1.2" height="11.4" fill="#505060"/>
<rect x="1311.9" y="443.0" width="6" height="11.4" rx="2" fill="url(#gband)"/>
<text x="1343.25" y="448.7" fill="#d0d0d0" font-size="9.5" font-weight="bold" text-anchor="middle" dominant-baseline="central">??</text>
<text x="1310" y="438.5" fill="#d2b63a" font-size="6.9" font-weight="bold" text-anchor="start" dominant-baseline="central">T-1-4</text>
<rect x="1300.7" y="463.5" width="74.0" height="12.0" rx="6.0" fill="url(#gbody)" stroke="#bcbcbc" stroke-width="1.5"/>
<path d="M1306.7,464.3 H1310.7 V474.7 H1306.7 A5.2,5.2 0 0 1 1306.7,464.3z" fill="url(#gcap)"/>
<rect x="1310.7" y="464.3" width="1.2" height="10.4" fill="#505060"/>
<rect x="1311.9" y="464.3" width="6" height="10.4" rx="2" fill="url(#gband)"/>
<text x="1343.25" y="469.5" fill="#d0d0d0" font-size="9.5" font-weight="bold" text-anchor="middle" dominant-baseline="central">??</text>
<text x="1310" y="459.8" fill="#d2b63a" font-size="6.9" font-weight="bold" text-anchor="start" dominant-baseline="central">T-1-3</text>
<rect x="1361.8" y="494" width="74.0" height="12.600000000000023" rx="6.300000000000011" fill="url(#gbody)" stroke="#bcbcbc" stroke-width="1.5"/>
<path d="M1368.1,494.8 H1371.8 V505.8 H1368.1 A5.5000000000000115,5.5000000000000115 0 0 1 1368.1,494.8z" fill="url(#gcap)"/>
<rect x="1371.8" y="494.8" width="1.2" height="11.000000000000023" fill="#505060"/>
<rect x="1373.0" y="494.8" width="6" height="11.000000000000023" rx="2" fill="url(#gband)"/>
<text x="1404.35" y="500.3" fill="#d0d0d0" font-size="9.5" font-weight="bold" text-anchor="middle" dominant-baseline="central">??</text>
<text x="1367.3" y="490.3" fill="#d2b63a" font-size="6.9" font-weight="bold" text-anchor="start" dominant-baseline="central">FM-1-4</text>
<rect x="1097.2" y="534.2" width="74.5" height="12.699999999999932" rx="6.349999999999966" fill="url(#gbody)" stroke="#bcbcbc" stroke-width="1.5"/>
<path d="M1103.55,535.0 H1107.2 V546.1 H1103.55 A5.549999999999966,5.549999999999966 0 0 1 1103.55,535.0z" fill="url(#gcap)"/>
<rect x="1107.2" y="535.0" width="1.2" height="11.099999999999932" fill="#505060"/>
<rect x="1108.4" y="535.0" width="6" height="11.099999999999932" rx="2" fill="url(#gband)"/>
<text x="1140.0375000000001" y="540.55" fill="#d0d0d0" font-size="9.5" font-weight="bold" text-anchor="middle" dominant-baseline="central">??</text>
<text x="1106" y="530.2" fill="#d2b63a" font-size="6.9" font-weight="bold" text-anchor="start" dominant-baseline="central">T-1-1</text>
<rect x="1097.2" y="555.6" width="74.5" height="12.699999999999932" rx="6.349999999999966" fill="url(#gbody)" stroke="#bcbcbc" stroke-width="1.5"/>
<path d="M1103.55,556.4 H1107.2 V567.5 H1103.55 A5.549999999999966,5.549999999999966 0 0 1 1103.55,556.4z" fill="url(#gcap)"/>
<rect x="1107.2" y="556.4" width="1.2" height="11.099999999999932" fill="#505060"/>
<rect x="1108.4" y="556.4" width="6" height="11.099999999999932" rx="2" fill="url(#gband)"/>
<text x="1140.0375000000001" y="561.95" fill="#d0d0d0" font-size="9.5" font-weight="bold" text-anchor="middle" dominant-baseline="central">??</text>
<text x="1106" y="551.6" fill="#d2b63a" font-size="6.9" font-weight="bold" text-anchor="start" dominant-baseline="central">T-1-2</text>
</svg>
<div class="a" style="left:422px;top:590px;width:107px;height:91px;border:1.5px solid #9a9a9a"></div>
<div class="a lg" style="left:427px;top:621px;width:55px;height:14px;background:#cf5c12">冷冻泵</div>
<div class="a q2" style="left:499px;top:621px">??</div>
<div class="a lg" style="left:427px;top:638.5px;width:55px;height:14.5px;background:#16c416">冷却泵</div>
<div class="a q2" style="left:499px;top:638.5px">??</div>
<div class="a lg" style="left:427px;top:657px;width:55px;height:14.5px;background:#7b2d6c">冷却塔</div>
<div class="a q2" style="left:499px;top:657px">??</div>
<div class="a" style="left:540px;top:600px;width:225px;height:81px;border:1.5px solid #9a9a9a"></div>
<div class="a lg" style="left:557px;top:623px;width:140px;height:14.5px;background:#1c5cae">冷机单元节能准备状态</div>
<div class="a q2" style="left:728px;top:623px">??</div>
<div class="a lg" style="left:557px;top:642px;width:140px;height:14.5px;background:#cf5c12">冷机单元节能模式状态</div>
<div class="a q2" style="left:728px;top:642px">??</div>
<div class="a lg" style="left:557px;top:660.5px;width:140px;height:14.5px;background:#cf5c12">冷机单元节能命令</div>
<div class="a q2" style="left:728px;top:660.5px">??</div>
<div class="a" style="left:773px;top:560px;width:242px;height:120px;border:1.5px solid #9a9a9a"></div>
<div class="a lg" style="left:782px;top:567.8px;width:177px;height:14.299999999999955px;background:#1c5cae">故障复位</div>
<div class="a q2" style="left:976px;top:567.8px">??</div>
<div class="a lg" style="left:782px;top:586.6px;width:177px;height:14.299999999999955px;background:#c6c224">来自主控制器心跳报警</div>
<div class="a q2" style="left:976px;top:586.6px">??</div>
<div class="a lg" style="left:782px;top:606px;width:177px;height:14.299999999999955px;background:#1c5cae">来自群控冷冻水一次泵转速</div>
<div class="a q2" style="left:976px;top:606px">??</div>
<div class="a lg" style="left:782px;top:624px;width:177px;height:14.299999999999955px;background:#cf5c12">来自群控制器的心跳</div>
<div class="a q2" style="left:976px;top:624px">??</div>
<div class="a lg" style="left:782px;top:642px;width:177px;height:14.299999999999955px;background:#16c416">接电装置失电至冷站管理器</div>
<div class="a q2" style="left:976px;top:642px">??</div>
<div class="a lg" style="left:782px;top:661px;width:177px;height:14.299999999999955px;background:#c6c224">心跳到主控制器</div>
<div class="a q2" style="left:976px;top:661px">??</div>
<div class="a" style="left:1022.5px;top:576.5px;width:221.5px;height:103.5px;border:1.5px solid #9a9a9a"></div>
<div class="a lg" style="left:1034px;top:586px;width:143px;height:14.5px;background:#cf5c12">手动切换自动开-关</div>
<div class="a q2" style="left:1199px;top:586px">??</div>
<div class="a lg" style="left:1034px;top:604.7px;width:143px;height:14.5px;background:#16c416">手动切换 本地-制冷开-关</div>
<div class="a q2" style="left:1199px;top:604.7px">??</div>
<div class="a lg" style="left:1034px;top:622.3px;width:143px;height:14.5px;background:#7b2d6c">手动切换 本地-关闭开-关</div>
<div class="a q2" style="left:1199px;top:622.3px">??</div>
<div class="a lg" style="left:1034px;top:640.5px;width:143px;height:14.5px;background:#16c416">手动模式输入</div>
<div class="a q2" style="left:1199px;top:640.5px">??</div>
<div class="a lg" style="left:1034px;top:658.5px;width:143px;height:14.5px;background:#7b2d6c">自动手动模式判断</div>
<div class="a q2" style="left:1199px;top:658.5px">??</div>
<div class="a" style="left:388px;top:243px;width:12px;height:124px;border-radius:9px 0 0 9px;background:#06585a;border:2px solid #0c9a9c"></div>
<div class="a" style="left:394px;top:239px;width:12.6px;height:337px;border-radius:9px 6px 0 9px;background:#46200a;border:1.6px solid #c85a1e"></div>
<div class="a" style="left:407px;top:235px;width:409px;height:384px;border-radius:12px;background:#053a05"></div>
<div class="a" style="left:415px;top:235px;width:401px;height:384px;border-radius:12px;background:#0a540a"></div>
<div class="a" style="left:420px;top:237px;width:384px;height:21px;border-radius:9px;background:#0a760a"></div>
<div class="a pt" style="left:577px;top:241px">冷却塔参数 CT-1</div>
<div class="a" style="left:602.5px;top:265px;width:1.2px;height:349px;background:#b8d4b0"></div>
<div class="a" style="left:427px;top:432px;width:374px;height:1.2px;background:#b8d4b0"></div>
<div class="a pr" style="left:424px;top:267.6px">冷却塔進水溫度<b>T-1-10-A</b></div><div class="a pq" style="left:575px;top:264.6px">??</div>
<div class="a pr" style="left:424px;top:285.6px">水箱溫度<b>T-1-11-A</b></div><div class="a pq" style="left:575px;top:282.6px">??</div>
<div class="a pr" style="left:424px;top:303.6px">水箱液位<b>LE-1-1-A</b></div><div class="a pq" style="left:575px;top:300.6px">??</div>
<div class="a pr" style="left:424px;top:321.6px">冷却塔高液位报警</div><div class="a pq" style="left:575px;top:318.6px">??</div>
<div class="a pr" style="left:424px;top:339.6px">冷却塔低液位报警</div><div class="a pq" style="left:575px;top:336.6px">??</div>
<div class="a pr" style="left:424px;top:357.6px">冷却塔超低液位报警</div><div class="a pq" style="left:575px;top:354.6px">??</div>
<div class="a pr" style="left:424px;top:375.6px">冷却塔高液位设定</div><div class="a pq" style="left:575px;top:372.6px">??</div>
<div class="a pr" style="left:424px;top:393.6px">冷却塔低液位设定</div><div class="a pq" style="left:575px;top:390.6px">??</div>
<div class="a pr" style="left:424px;top:411.6px">冷却塔超低液位设定</div><div class="a pq" style="left:575px;top:408.6px">??</div>
<div class="a pr" style="left:619px;top:267.8px">冷却塔风机 状态</div><div class="a pq" style="left:770px;top:267.8px">??</div>
<div class="a pr" style="left:619px;top:285.6px">冷却塔风机 故障</div><div class="a pq" style="left:770px;top:285.6px">??</div>
<div class="a pr" style="left:619px;top:303.4px">冷却塔风机 手自动</div><div class="a pq" style="left:770px;top:303.4px">??</div>
<div class="a pr" style="left:619px;top:321.2px">冷却塔风机 开命令</div><div class="a pq" style="left:770px;top:321.2px">??</div>
<div class="a pr" style="left:619px;top:339.0px">冷却塔风机 关命令</div><div class="a pq" style="left:770px;top:339.0px">??</div>
<div class="a pr" style="left:619px;top:356.8px">冷却塔<b>1#</b>风机 变频反馈</div><div class="a pq" style="left:770px;top:356.8px">??</div>
<div class="a pr" style="left:619px;top:374.6px">冷却塔<b>1#</b>风机 变频调节</div><div class="a pq" style="left:770px;top:374.6px">??</div>
<div class="a pr" style="left:619px;top:392.4px">冷却塔<b>2#</b>风机 变频反馈</div><div class="a pq" style="left:770px;top:392.4px">??</div>
<div class="a pr" style="left:619px;top:410.2px">冷却塔<b>2#</b>风机 变频调节</div><div class="a pq" style="left:770px;top:410.2px">??</div>
<div class="a pr" style="left:423.5px;top:439.8px">冷却水补水池出水温度<b>T-1-9-A</b></div><div class="a pq" style="left:575px;top:439.8px">??</div>
<div class="a pr" style="left:423.5px;top:457.8px">水池补水阀<b>EB-1-3-A</b>旁通</div><div class="a pq" style="left:575px;top:457.8px">??</div>
<div class="a pr" style="left:423.5px;top:475.8px">水池补水阀<b>EB-1-3-A</b>打开状态</div><div class="a pq" style="left:575px;top:475.8px">??</div>
<div class="a pr" style="left:423.5px;top:493.8px">水池补水阀<b>EB-1-3-A</b>关闭状态</div><div class="a pq" style="left:575px;top:493.8px">??</div>
<div class="a pr" style="left:423.5px;top:511.8px">水池补水阀<b>EB-1-3-A</b>打开</div><div class="a pq" style="left:575px;top:511.8px">??</div>
<div class="a pr" style="left:423.5px;top:529.8px">水池补水阀<b>EB-1-3-A</b>关闭</div><div class="a pq" style="left:575px;top:529.8px">??</div>
<div class="a pr" style="left:423.5px;top:547.8px">冷却塔进水管电伴热 状态</div><div class="a pq" style="left:575px;top:547.8px">??</div>
<div class="a pr" style="left:423.5px;top:565.8px">冷却塔进水管电伴热 报警</div><div class="a pq" style="left:575px;top:565.8px">??</div>
<div class="a pr" style="left:423.5px;top:583.8px">冷却塔进水管电伴热 启/停</div><div class="a pq" style="left:575px;top:583.8px">??</div>
<div class="a pr" style="left:423.5px;top:601.8px">冷却塔进水管电伴热 手自动</div><div class="a pq" style="left:575px;top:601.8px">??</div>
<div class="a pr" style="left:618px;top:439.8px">冷却塔旁通阀<b>ECV-1-3-A</b>旁通</div><div class="a pq" style="left:771px;top:439.8px">??</div>
<div class="a pr" style="left:618px;top:457.8px">冷却塔旁通阀<b>ECV-1-3-A</b>打开状态</div><div class="a pq" style="left:771px;top:457.8px">??</div>
<div class="a pr" style="left:618px;top:475.8px">冷却塔旁通阀<b>ECV-1-3-A</b>关闭状态</div><div class="a pq" style="left:771px;top:475.8px">??</div>
<div class="a pr" style="left:618px;top:493.8px">冷却塔旁通阀<b>ECV-1-3-A</b>打开</div><div class="a pq" style="left:771px;top:493.8px">??</div>
<div class="a pr" style="left:618px;top:511.8px">冷却塔旁通阀<b>ECV-1-3-A</b>关闭</div><div class="a pq" style="left:771px;top:511.8px">??</div>
<div class="a pr" style="left:618px;top:529.8px">冷却塔隔离阀<b>ECV-1-4-A</b>旁通</div><div class="a pq" style="left:771px;top:529.8px">??</div>
<div class="a pr" style="left:618px;top:547.8px">冷却塔隔离阀<b>ECV-1-4-A</b>打开状态</div><div class="a pq" style="left:771px;top:547.8px">??</div>
<div class="a pr" style="left:618px;top:565.8px">冷却塔隔离阀<b>ECV-1-4-A</b>关闭状态</div><div class="a pq" style="left:771px;top:565.8px">??</div>
<div class="a pr" style="left:618px;top:583.8px">冷却塔隔离阀<b>ECV-1-4-A</b>打开</div><div class="a pq" style="left:771px;top:583.8px">??</div>
<div class="a pr" style="left:618px;top:601.8px">冷却塔隔离阀<b>ECV-1-4-A</b>关闭</div><div class="a pq" style="left:771px;top:601.8px">??</div>
</body></html>
